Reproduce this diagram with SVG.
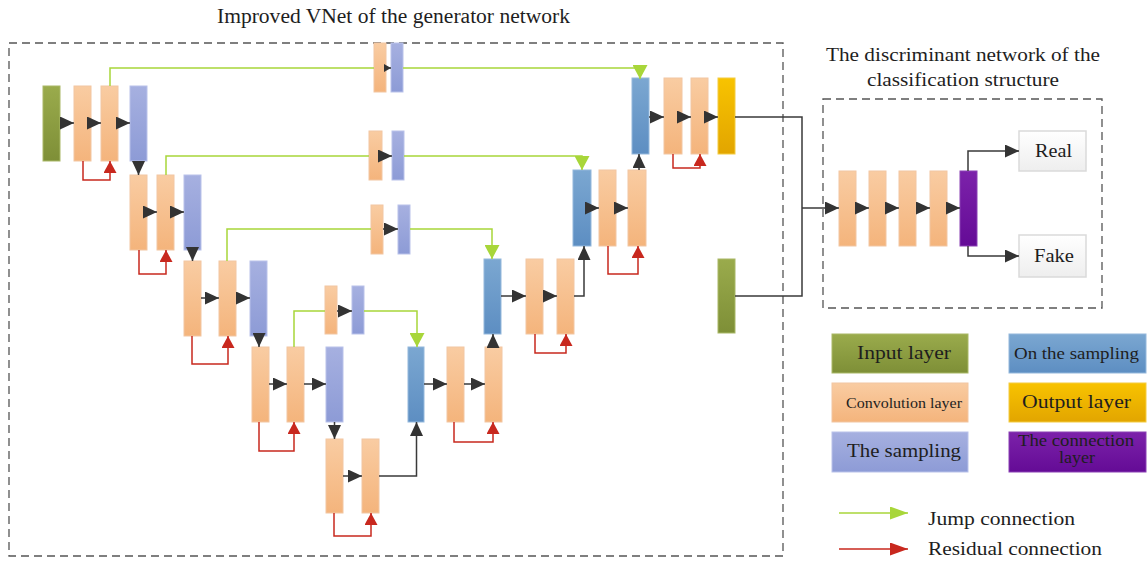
<svg xmlns="http://www.w3.org/2000/svg" width="1147" height="561" viewBox="0 0 1147 561">
  <defs>
    <linearGradient id="gConv" x1="0" y1="0" x2="0" y2="1">
      <stop offset="0" stop-color="#f9cca2"/>
      <stop offset="1" stop-color="#f4b47c"/>
    </linearGradient>
    <linearGradient id="gSamp" x1="0" y1="0" x2="0" y2="1">
      <stop offset="0" stop-color="#a6b0e0"/>
      <stop offset="1" stop-color="#8d9bd6"/>
    </linearGradient>
    <linearGradient id="gUp" x1="0" y1="0" x2="0" y2="1">
      <stop offset="0" stop-color="#7ba7d1"/>
      <stop offset="1" stop-color="#5d8ec2"/>
    </linearGradient>
    <linearGradient id="gIn" x1="0" y1="0" x2="0" y2="1">
      <stop offset="0" stop-color="#9aab4c"/>
      <stop offset="1" stop-color="#7e8f37"/>
    </linearGradient>
    <linearGradient id="gOut" x1="0" y1="0" x2="0" y2="1">
      <stop offset="0" stop-color="#f8c300"/>
      <stop offset="1" stop-color="#e2a500"/>
    </linearGradient>
    <linearGradient id="gCat" x1="0" y1="0" x2="0" y2="1">
      <stop offset="0" stop-color="#7c22aa"/>
      <stop offset="1" stop-color="#640b96"/>
    </linearGradient>
    <linearGradient id="gBox" x1="0" y1="0" x2="0" y2="1">
      <stop offset="0" stop-color="#ffffff"/>
      <stop offset="1" stop-color="#eeeeee"/>
    </linearGradient>
    <marker id="aBlk" markerUnits="userSpaceOnUse" markerWidth="14" markerHeight="13" refX="14" refY="6.5" orient="auto">
      <path d="M0,0 L14,6.5 L0,13 z" fill="#333"/>
    </marker>
    <marker id="aBlkS" markerUnits="userSpaceOnUse" markerWidth="7" markerHeight="8" refX="7" refY="4" orient="auto">
      <path d="M0,0 L7,4 L0,8 z" fill="#333"/>
    </marker>
    <marker id="aRed" markerUnits="userSpaceOnUse" markerWidth="12" markerHeight="13" refX="12" refY="6.5" orient="auto">
      <path d="M0,0 L12,6.5 L0,13 z" fill="#c8281e"/>
    </marker>
    <marker id="aGrn" markerUnits="userSpaceOnUse" markerWidth="14" markerHeight="15" refX="14" refY="7.5" orient="auto">
      <path d="M0,0 L14,7.5 L0,15 z" fill="#a8d63a"/>
    </marker>
    <marker id="aGrnL" markerUnits="userSpaceOnUse" markerWidth="18" markerHeight="13" refX="18" refY="6.5" orient="auto">
      <path d="M0,0 L18,6.5 L0,13 z" fill="#a8d63a"/>
    </marker>
    <marker id="aRedL" markerUnits="userSpaceOnUse" markerWidth="18" markerHeight="13" refX="18" refY="6.5" orient="auto">
      <path d="M0,0 L18,6.5 L0,13 z" fill="#c8281e"/>
    </marker>
  </defs>
  <style>
    .conv{fill:url(#gConv);stroke:#f2c6a2;stroke-width:1}
    .samp{fill:url(#gSamp);stroke:#b9c2ea;stroke-width:1}
    .up{fill:url(#gUp);stroke:#94b8dc;stroke-width:1}
    .inp{fill:url(#gIn);stroke:#a9b866;stroke-width:1}
    .outp{fill:url(#gOut);stroke:#f4cc40;stroke-width:1}
    .cat{fill:url(#gCat);stroke:#8a40b4;stroke-width:1}
    .box{fill:url(#gBox);stroke:#dadada;stroke-width:1.5}
    .frame{fill:none;stroke:#555;stroke-width:1.3;stroke-dasharray:8 5}
    .t{font-family:"Liberation Serif","Times New Roman",serif;fill:#1e1e1e}
    .blk{fill:none;stroke:#3a3a3a;stroke-width:1.5}
    .grn{fill:none;stroke:#a8d63a;stroke-width:1.5}
    .red{fill:none;stroke:#c8281e;stroke-width:1.5}
  </style>

  <rect width="1147" height="561" fill="#ffffff"/>

  <!-- frames and titles -->
  <g id="generator-frame">
    <rect class="frame" x="9" y="43" width="774" height="513"/>
    <text class="t" x="393.5" y="22.5" font-size="20" text-anchor="middle" textLength="353" lengthAdjust="spacingAndGlyphs">Improved VNet of the generator network</text>
  </g>
  <g id="discriminator-frame">
    <rect class="frame" x="823" y="99" width="279" height="209"/>
    <text class="t" x="963" y="61" font-size="19" text-anchor="middle" textLength="274" lengthAdjust="spacingAndGlyphs">The discriminant network of the</text>
    <text class="t" x="963" y="85.5" font-size="19" text-anchor="middle" textLength="192" lengthAdjust="spacingAndGlyphs">classification structure</text>
  </g>

  <!-- encoder path -->
  <g id="input1"><rect class="inp" x="43" y="86" width="17" height="75"/></g>
  <g id="conv1a"><rect class="conv" x="74" y="86" width="17" height="75"/></g>
  <g id="conv1b"><rect class="conv" x="101" y="86" width="17" height="75"/></g>
  <g id="down1"><rect class="samp" x="130" y="86" width="17" height="75"/></g>
  <g id="conv2a"><rect class="conv" x="130" y="175" width="17" height="75"/></g>
  <g id="conv2b"><rect class="conv" x="157" y="175" width="17" height="75"/></g>
  <g id="down2"><rect class="samp" x="184" y="175" width="17" height="75"/></g>
  <g id="conv3a"><rect class="conv" x="184" y="261" width="17" height="75"/></g>
  <g id="conv3b"><rect class="conv" x="219" y="261" width="17" height="75"/></g>
  <g id="down3"><rect class="samp" x="250" y="261" width="17" height="75"/></g>
  <g id="conv4a"><rect class="conv" x="252" y="347" width="17" height="75"/></g>
  <g id="conv4b"><rect class="conv" x="287" y="347" width="17" height="75"/></g>
  <g id="down4"><rect class="samp" x="326" y="347" width="17" height="75"/></g>
  <g id="conv5a"><rect class="conv" x="326" y="439" width="17" height="74"/></g>
  <g id="conv5b"><rect class="conv" x="362" y="439" width="17" height="74"/></g>

  <!-- skip blocks -->
  <g id="skip1"><rect class="conv" x="374" y="43" width="12" height="49"/><rect class="samp" x="391" y="43" width="12" height="49"/></g>
  <g id="skip2"><rect class="conv" x="369" y="131" width="13" height="49"/><rect class="samp" x="392" y="131" width="12" height="49"/></g>
  <g id="skip3"><rect class="conv" x="371" y="205" width="12" height="49"/><rect class="samp" x="398" y="205" width="12" height="49"/></g>
  <g id="skip4"><rect class="conv" x="325" y="286" width="12" height="48"/><rect class="samp" x="352" y="286" width="12" height="48"/></g>

  <!-- decoder path -->
  <g id="up4"><rect class="up" x="408" y="347" width="16" height="75"/></g>
  <g id="dconv4a"><rect class="conv" x="447" y="347" width="17" height="75"/></g>
  <g id="dconv4b"><rect class="conv" x="485" y="347" width="17" height="75"/></g>
  <g id="up3"><rect class="up" x="484" y="259" width="17" height="75"/></g>
  <g id="dconv3a"><rect class="conv" x="526" y="259" width="17" height="75"/></g>
  <g id="dconv3b"><rect class="conv" x="557" y="259" width="17" height="75"/></g>
  <g id="up2"><rect class="up" x="573" y="170" width="18" height="76"/></g>
  <g id="dconv2a"><rect class="conv" x="599" y="170" width="17" height="76"/></g>
  <g id="dconv2b"><rect class="conv" x="628" y="170" width="18" height="76"/></g>
  <g id="up1"><rect class="up" x="632" y="78" width="17" height="76"/></g>
  <g id="dconv1a"><rect class="conv" x="664" y="78" width="18" height="76"/></g>
  <g id="dconv1b"><rect class="conv" x="691" y="78" width="17" height="76"/></g>
  <g id="output"><rect class="outp" x="718" y="78" width="17" height="76"/></g>

  <!-- second input -->
  <g id="input2"><rect class="inp" x="718" y="259" width="17" height="74"/></g>

  <!-- discriminator -->
  <g id="dconvA"><rect class="conv" x="839" y="171" width="17" height="75"/></g>
  <g id="dconvB"><rect class="conv" x="869" y="171" width="17" height="75"/></g>
  <g id="dconvC"><rect class="conv" x="899" y="171" width="17" height="75"/></g>
  <g id="dconvD"><rect class="conv" x="930" y="171" width="17" height="75"/></g>
  <g id="concat"><rect class="cat" x="960" y="171" width="17" height="75"/></g>
  <g id="real"><rect class="box" x="1019" y="131" width="67" height="40"/><text class="t" x="1053.5" y="157" font-size="19" text-anchor="middle" textLength="37" lengthAdjust="spacingAndGlyphs">Real</text></g>
  <g id="fake"><rect class="box" x="1019" y="235" width="67" height="42"/><text class="t" x="1054" y="262" font-size="19" text-anchor="middle" textLength="40" lengthAdjust="spacingAndGlyphs">Fake</text></g>

  <!-- legend -->
  <g id="legend-input"><rect class="inp" x="832" y="334" width="136" height="39"/><text class="t" x="904" y="359" font-size="19" text-anchor="middle" textLength="94" lengthAdjust="spacingAndGlyphs">Input layer</text></g>
  <g id="legend-conv"><rect class="conv" x="832" y="383" width="136" height="39"/><text class="t" x="904" y="408" font-size="14.5" text-anchor="middle" textLength="116" lengthAdjust="spacingAndGlyphs">Convolution layer</text></g>
  <g id="legend-down"><rect class="samp" x="832" y="432" width="136" height="40"/><text class="t" x="904" y="457" font-size="19" text-anchor="middle" textLength="114" lengthAdjust="spacingAndGlyphs">The sampling</text></g>
  <g id="legend-up"><rect class="up" x="1009" y="334" width="137" height="39"/><text class="t" x="1076.5" y="359" font-size="17" text-anchor="middle" textLength="125" lengthAdjust="spacingAndGlyphs">On the sampling</text></g>
  <g id="legend-output"><rect class="outp" x="1009" y="383" width="137" height="39"/><text class="t" x="1076.5" y="408" font-size="19.5" text-anchor="middle" textLength="109" lengthAdjust="spacingAndGlyphs">Output layer</text></g>
  <g id="legend-concat"><rect class="cat" x="1009" y="432" width="137" height="40"/><text class="t" x="1076" y="446" font-size="17" text-anchor="middle" textLength="116" lengthAdjust="spacingAndGlyphs">The connection</text><text class="t" x="1077" y="463" font-size="17" text-anchor="middle" textLength="36" lengthAdjust="spacingAndGlyphs">layer</text></g>
  <g id="legend-jump"><line class="grn" x1="839" y1="513" x2="908" y2="513" marker-end="url(#aGrnL)"/><text class="t" x="928" y="525" font-size="19" textLength="147" lengthAdjust="spacingAndGlyphs">Jump connection</text></g>
  <g id="legend-residual"><line class="red" x1="839" y1="549" x2="908" y2="549" marker-end="url(#aRedL)"/><text class="t" x="928" y="555" font-size="19" textLength="174" lengthAdjust="spacingAndGlyphs">Residual connection</text></g>

  <!-- connectors -->
  <g id="connectors">
    <!-- sequential flow -->
    <g class="blk">
      <line x1="60" y1="123" x2="74" y2="123" marker-end="url(#aBlk)"/>
      <line x1="91" y1="123" x2="101" y2="123" marker-end="url(#aBlk)"/>
      <line x1="118" y1="123" x2="130" y2="123" marker-end="url(#aBlk)"/>
      <line x1="138.5" y1="161" x2="138.5" y2="175" marker-end="url(#aBlk)"/>
      <line x1="147" y1="212" x2="157" y2="212" marker-end="url(#aBlk)"/>
      <line x1="174" y1="212" x2="184" y2="212" marker-end="url(#aBlk)"/>
      <line x1="192.5" y1="250" x2="192.5" y2="261" marker-end="url(#aBlk)"/>
      <line x1="201" y1="298" x2="219" y2="298" marker-end="url(#aBlk)"/>
      <line x1="236" y1="298" x2="250" y2="298" marker-end="url(#aBlk)"/>
      <line x1="259" y1="336" x2="259" y2="347" marker-end="url(#aBlk)"/>
      <line x1="269" y1="384" x2="287" y2="384" marker-end="url(#aBlk)"/>
      <line x1="304" y1="384" x2="326" y2="384" marker-end="url(#aBlk)"/>
      <line x1="334.5" y1="422" x2="334.5" y2="439" marker-end="url(#aBlk)"/>
      <line x1="343" y1="476" x2="362" y2="476" marker-end="url(#aBlk)"/>
      <path d="M379,476 H416.5 V422" marker-end="url(#aBlk)"/>
      <line x1="424" y1="384" x2="447" y2="384" marker-end="url(#aBlk)"/>
      <line x1="464" y1="384" x2="485" y2="384" marker-end="url(#aBlk)"/>
      <line x1="493" y1="347" x2="493" y2="334" marker-end="url(#aBlk)"/>
      <line x1="501" y1="296" x2="526" y2="296" marker-end="url(#aBlk)"/>
      <line x1="543" y1="296" x2="557" y2="296" marker-end="url(#aBlk)"/>
      <path d="M574,296 H584 V246" marker-end="url(#aBlk)"/>
      <line x1="591" y1="208" x2="599" y2="208" marker-end="url(#aBlk)"/>
      <line x1="616" y1="208" x2="628" y2="208" marker-end="url(#aBlk)"/>
      <line x1="639" y1="170" x2="639" y2="154" marker-end="url(#aBlk)"/>
      <line x1="649" y1="117" x2="664" y2="117" marker-end="url(#aBlk)"/>
      <line x1="682" y1="117" x2="691" y2="117" marker-end="url(#aBlk)"/>
      <line x1="708" y1="117" x2="718" y2="117" marker-end="url(#aBlk)"/>
      <!-- skip block internals -->
      <line x1="386" y1="68" x2="391" y2="68" marker-end="url(#aBlkS)"/>
      <line x1="382" y1="156" x2="392" y2="156" marker-end="url(#aBlk)"/>
      <line x1="383" y1="229" x2="398" y2="229" marker-end="url(#aBlk)"/>
      <line x1="337" y1="311" x2="352" y2="311" marker-end="url(#aBlk)"/>
      <!-- generator output and second input into discriminator -->
      <path d="M735,117 H802 V296 H735"/>
      <line x1="802" y1="208" x2="839" y2="208" marker-end="url(#aBlk)"/>
      <line x1="856" y1="208" x2="869" y2="208" marker-end="url(#aBlk)"/>
      <line x1="886" y1="208" x2="899" y2="208" marker-end="url(#aBlk)"/>
      <line x1="916" y1="208" x2="930" y2="208" marker-end="url(#aBlk)"/>
      <line x1="947" y1="208" x2="960" y2="208" marker-end="url(#aBlk)"/>
      <path d="M968,171 V151 H1019" marker-end="url(#aBlk)"/>
      <path d="M968,246 V256 H1019" marker-end="url(#aBlk)"/>
    </g>
    <!-- jump connections -->
    <g class="grn">
      <path d="M110,86 V68 H374"/>
      <path d="M403,68 H640 V79" marker-end="url(#aGrn)"/>
      <path d="M166,175 V156 H369"/>
      <path d="M404,156 H582 V170" marker-end="url(#aGrn)"/>
      <path d="M227,261 V229 H371"/>
      <path d="M410,229 H492 V259" marker-end="url(#aGrn)"/>
      <path d="M294,347 V311 H325"/>
      <path d="M364,311 H417 V347" marker-end="url(#aGrn)"/>
    </g>
    <!-- residual connections -->
    <g class="red">
      <path d="M83,161 V180 H110 V161" marker-end="url(#aRed)"/>
      <path d="M139,250 V274 H166 V250" marker-end="url(#aRed)"/>
      <path d="M192,336 V364 H228 V336" marker-end="url(#aRed)"/>
      <path d="M259,422 V451 H294 V422" marker-end="url(#aRed)"/>
      <path d="M334,513 V536 H371 V513" marker-end="url(#aRed)"/>
      <path d="M454,422 V442 H493 V422" marker-end="url(#aRed)"/>
      <path d="M535,334 V353 H566 V334" marker-end="url(#aRed)"/>
      <path d="M608,246 V274 H638 V246" marker-end="url(#aRed)"/>
      <path d="M673,154 V168 H700 V154" marker-end="url(#aRed)"/>
    </g>
  </g>
</svg>
